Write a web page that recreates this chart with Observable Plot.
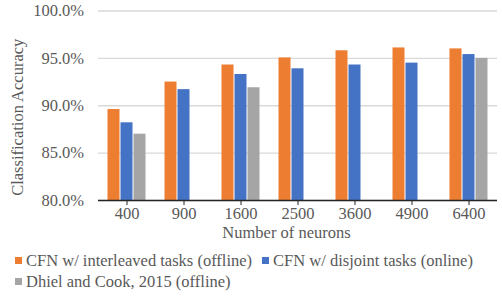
<!DOCTYPE html>
<html>
<head>
<meta charset="utf-8">
<script src="https://cdn.jsdelivr.net/npm/d3@7"></script>
<script src="https://cdn.jsdelivr.net/npm/@observablehq/plot@0.6"></script>
<style>
  html, body { margin: 0; padding: 0; background: #fff; }
  #wrap { position: relative; width: 502px; height: 300px; font-family: "Liberation Serif", "Times New Roman", Times, "DejaVu Serif", serif; color: #595959; }
  #legend { position: absolute; left: 15px; top: 250px; font-size: 16.5px; line-height: 21px; }
  .row { display: flex; white-space: nowrap; }
  .item { display: flex; align-items: center; margin-right: 10px; }
  .sw { width: 7px; height: 7px; margin-right: 4px; flex: none; }
</style>
</head>
<body>
<div id="wrap">
  <div id="chart"></div>
  <div id="legend"></div>
</div>
<script>
// Number of neurons per network (x categories)
const categories = ["400", "900", "1600", "2500", "3600", "4900", "6400"];

// Series names and colours
const series = [
  "CFN w/ interleaved tasks (offline)",
  "CFN w/ disjoint tasks (online)",
  "Dhiel and Cook, 2015 (offline)"
];
const colors = ["#ED7D31", "#4472C4", "#A5A5A5"];

// Classification accuracy (%) per series; null = not reported
const interleaved = [89.6, 92.5, 94.3, 95.05, 95.8, 96.1, 96.0];
const disjoint    = [88.2, 91.7, 93.3, 93.9, 94.3, 94.5, 95.4];
const dhiel       = [87.0, null, 91.9, null, null, null, 95.0];

// Y axis ticks (percent)
const yTicks = [80, 85, 90, 95, 100];

const serifStack = "'Liberation Serif', 'Times New Roman', Times, 'DejaVu Serif', serif";

const values = [interleaved, disjoint, dhiel];
const rows = categories.flatMap((n, i) =>
  values.map((arr, j) => ({ n, series: series[j], value: arr[i] }))
).filter(d => d.value != null);

const chart = Plot.plot({
  width: 502,
  height: 245,
  marginTop: 10.5,
  marginBottom: 45,
  marginLeft: 97.5,
  marginRight: 5.5,
  style: {
    fontFamily: serifStack,
    fontSize: "16.5px",
    color: "#595959",
    background: "white"
  },
  fx: { domain: categories, padding: 0 },
  x: { domain: series, paddingInner: 0.1, paddingOuter: 0.68, axis: null },
  y: { domain: [yTicks[0], yTicks[yTicks.length - 1]] },
  color: { domain: series, range: colors },
  marks: [
    Plot.gridY(yTicks, { stroke: "#d9d9d9", strokeOpacity: 1, strokeWidth: 1.3 }),
    Plot.barY(rows, { fx: "n", x: "series", y1: yTicks[0], y2: "value", fill: "series" }),
    Plot.ruleY([yTicks[0]], { stroke: "#262626", strokeWidth: 1.3 }),
    Plot.axisY(yTicks, {
      tickSize: 0,
      tickPadding: 14.5,
      tickFormat: d => d.toFixed(1) + "%",
      fontFamily: serifStack,
      label: null
    }),
    Plot.axisFx({ anchor: "bottom", tickSize: 5, tickPadding: 2, label: null, stroke: "#262626", fontFamily: serifStack }),
    Plot.text(["Classification Accuracy"], {
      fx: () => categories[0],
      text: d => d,
      frameAnchor: "left",
      textAnchor: "middle",
      rotate: -90,
      lineAnchor: "middle",
      fontFamily: serifStack,
      dx: -81,
      dy: 11.5
    }),
    Plot.text(["Number of neurons"], {
      fx: () => categories[3],
      text: d => d,
      frameAnchor: "bottom",
      textAnchor: "middle",
      lineAnchor: "middle",
      fontFamily: serifStack,
      dx: -11.5,
      dy: 32.5
    })
  ]
});
document.getElementById("chart").appendChild(chart);

// Legend below the chart: two items on the first row, one on the second
const legendRows = [[0, 1], [2]];
const legend = document.getElementById("legend");
legendRows.forEach(r => {
  const row = document.createElement("div");
  row.className = "row";
  r.forEach(i => {
    const item = document.createElement("div");
    item.className = "item";
    const sw = document.createElement("span");
    sw.className = "sw";
    sw.style.background = colors[i];
    const label = document.createElement("span");
    label.textContent = series[i];
    item.appendChild(sw);
    item.appendChild(label);
    row.appendChild(item);
  });
  legend.appendChild(row);
});
</script>
</body>
</html>
